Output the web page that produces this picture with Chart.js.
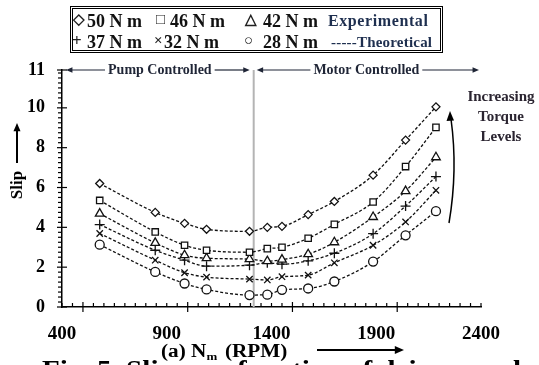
<!DOCTYPE html>
<html>
<head>
<meta charset="utf-8">
<script src="https://cdn.jsdelivr.net/npm/chart.js@4.4.1/dist/chart.umd.min.js"></script>
<style>
  body { margin: 0; background: #fff; }
  #wrap { position: relative; width: 539px; height: 365px; overflow: hidden; }
  #legenda {
    position: absolute; left: 70px; top: 6px; width: 367px; height: 41px;
    border: 3px double #000; font-family: "Liberation Serif", serif; font-weight: bold;
  }
  #legenda span { position: absolute; white-space: nowrap; line-height: 1; }
  .num { font-size: 18px; color: #111; }
  .sym { font-size: 15px; color: #222; }
  .tipo { font-size: 16px; color: #1e2f4f; letter-spacing: 0.6px; }
  .teo { font-size: 15px; color: #1e2f4f; letter-spacing: 0.2px; }
</style>
</head>
<body>
<div id="wrap">
  <canvas id="myChart" width="539" height="365"></canvas>
  <div id="legenda">
    <span class="sym" style="left:0px;top:3px">&#9671;</span>
    <span class="num" style="left:14px;top:3px">50 N m</span>
    <span class="sym" style="left:83px;top:3px">&#9633;</span>
    <span class="num" style="left:97px;top:3px">46 N m</span>
    <span class="sym" style="left:172px;top:3px">&#9651;</span>
    <span class="num" style="left:190px;top:3px">42 N m</span>
    <span class="tipo" style="left:255px;top:4px">Experimental</span>
    <span class="sym" style="left:-1px;top:23px;font-size:17px">+</span>
    <span class="num" style="left:14px;top:24px">37 N m</span>
    <span class="sym" style="left:81px;top:24px">&#215;</span>
    <span class="num" style="left:91px;top:24px">32 N m</span>
    <span class="sym" style="left:171px;top:24px">&#9675;</span>
    <span class="num" style="left:190px;top:24px">28 N m</span>
    <span class="teo" style="left:258px;top:26px">-----Theoretical</span>
  </div>
</div>
<script>
const ctx = document.getElementById("myChart");

// velocidades del motor (RPM) donde se midieron los puntos
const rpm = [580, 845, 985, 1090, 1295, 1380, 1450, 1575, 1700, 1885, 2040, 2185];

// slip para cada nivel de torque
const slip50 = [6.2, 4.75, 4.2, 3.9, 3.8, 4.0, 4.05, 4.64, 5.3, 6.62, 8.38, 10.05];
const slip46 = [5.35, 3.77, 3.1, 2.85, 2.75, 2.93, 3.0, 3.45, 4.15, 5.27, 7.05, 9.02];
const slip42 = [4.69, 3.22, 2.6, 2.45, 2.4, 2.3, 2.38, 2.65, 3.25, 4.52, 5.82, 7.52];
const slip37 = [4.14, 2.85, 2.35, 2.05, 2.1, 2.22, 2.15, 2.32, 2.7, 3.68, 5.07, 6.55];
const slip32 = [3.69, 2.35, 1.72, 1.5, 1.4, 1.36, 1.52, 1.6, 2.22, 3.1, 4.27, 5.86];
const slip28 = [3.13, 1.76, 1.18, 0.88, 0.6, 0.62, 0.86, 0.93, 1.28, 2.28, 3.6, 4.81];

const torqueLabels = ["50 N m", "46 N m", "42 N m", "37 N m", "32 N m", "28 N m"];
const xTicks = [400, 900, 1400, 1900, 2400];
const yTicks = [0, 2, 4, 6, 8, 10];
const yTopLabel = "11";
const yMax = 11.9;
const limiteRpm = 1315; // pump controlled / motor controlled

const allSlip = [slip50, slip46, slip42, slip37, slip32, slip28];
const estilos = ["rectRot", "rect", "triangle", "cross", "crossRot", "circle"];
const radios = [4, 4.5, 5, 5, 4.5, 4.5];

const fuente = "Liberation Serif";

function flecha(c, x1, y1, x2, y2, head) {
  const ang = Math.atan2(y2 - y1, x2 - x1);
  c.beginPath();
  c.moveTo(x1, y1);
  c.lineTo(x2 - Math.cos(ang) * head * 0.8, y2 - Math.sin(ang) * head * 0.8);
  c.stroke();
  c.beginPath();
  c.moveTo(x2, y2);
  c.lineTo(x2 - head * Math.cos(ang - 0.4), y2 - head * Math.sin(ang - 0.4));
  c.lineTo(x2 - head * Math.cos(ang + 0.4), y2 - head * Math.sin(ang + 0.4));
  c.closePath();
  c.fill();
}

// linea divisoria gris
const divisor = {
  id: "divisor",
  beforeDatasetsDraw(chart) {
    const c = chart.ctx;
    const a = chart.chartArea;
    const px = chart.scales.x.getPixelForValue(limiteRpm);
    c.save();
    c.strokeStyle = "#b4b4b4";
    c.lineWidth = 2;
    c.beginPath();
    c.moveTo(px, a.top);
    c.lineTo(px, a.bottom);
    c.stroke();
    c.restore();
  },
};

// ticks, textos y flechas
const extras = {
  id: "extras",
  afterDraw(chart) {
    const c = chart.ctx;
    const a = chart.chartArea;
    const sx = chart.scales.x;
    const sy = chart.scales.y;
    c.save();
    c.strokeStyle = "#000";
    c.fillStyle = "#000";
    c.lineWidth = 1.2;

    // ticks eje x
    for (let v = 400; v <= 2400; v += 50) {
      const px = sx.getPixelForValue(v);
      c.beginPath();
      if (v % 500 === 0) {
        c.moveTo(px, a.bottom - 5);
        c.lineTo(px, a.bottom + 5);
      } else {
        c.moveTo(px, a.bottom - 4);
        c.lineTo(px, a.bottom);
      }
      c.stroke();
    }
    // ticks eje y
    for (let v = 0; v <= yMax; v += 0.25) {
      const py = sy.getPixelForValue(v);
      c.beginPath();
      if (v % 2 === 0 && v <= 10) {
        c.moveTo(a.left - 5, py);
        c.lineTo(a.left + 5, py);
      } else {
        c.moveTo(a.left - 4, py);
        c.lineTo(a.left, py);
      }
      c.stroke();
    }
    c.beginPath();
    c.moveTo(a.left - 5, a.top);
    c.lineTo(a.left + 5, a.top);
    c.stroke();

    // Pump / Motor controlled
    const pd = sx.getPixelForValue(limiteRpm);
    c.font = "bold 14px " + fuente;
    c.textBaseline = "middle";
    c.textAlign = "center";
    c.fillStyle = "#1f2536";
    c.strokeStyle = "#1f2536";
    const ty = a.top;
    const pumpTxt = "Pump Controlled";
    const motorTxt = "Motor Controlled";
    const pumpX = (a.left + pd) / 2 + 2;
    const motorX = (pd + a.right) / 2 - 1;
    const wp = c.measureText(pumpTxt).width;
    const wm = c.measureText(motorTxt).width;
    c.fillText(pumpTxt, pumpX, ty);
    c.fillText(motorTxt, motorX, ty);
    flecha(c, pumpX - wp / 2 - 3, ty, a.left + 4, ty, 7);
    flecha(c, pumpX + wp / 2 + 3, ty, pd - 4, ty, 7);
    flecha(c, motorX - wm / 2 - 3, ty, pd + 3, ty, 7);
    flecha(c, motorX + wm / 2 + 3, ty, a.right - 2, ty, 7);

    // Increasing Torque Levels
    c.fillStyle = "#2a2430";
    c.font = "bold 15px " + fuente;
    c.fillText("Increasing", 501, 97);
    c.fillText("Torque", 501, 117);
    c.fillText("Levels", 501, 137);

    // flecha curva
    c.strokeStyle = "#000";
    c.fillStyle = "#000";
    c.lineWidth = 1.5;
    c.beginPath();
    c.moveTo(449, 223);
    c.quadraticCurveTo(458, 170, 451, 119);
    c.stroke();
    c.beginPath();
    c.moveTo(450, 111);
    c.lineTo(446.5, 121);
    c.lineTo(454, 120.5);
    c.closePath();
    c.fill();

    // titulo eje y
    c.save();
    c.translate(18, 185);
    c.rotate(-Math.PI / 2);
    c.font = "bold 17px " + fuente;
    c.textAlign = "center";
    c.fillText("Slip", 0, 0);
    c.lineWidth = 2;
    flecha(c, 22, -1, 62, -1, 9);
    c.restore();

    // titulo eje x (texto algo ensanchado como en la figura)
    c.textAlign = "left";
    c.textBaseline = "alphabetic";
    c.save();
    c.translate(161, 357);
    c.scale(1.18, 1);
    c.font = "bold 18px " + fuente;
    let x0 = 0;
    c.fillText("(a) N", x0, 0);
    x0 += c.measureText("(a) N").width;
    c.font = "bold 11px " + fuente;
    c.fillText("m", x0, 3);
    x0 += c.measureText("m").width + 2;
    c.font = "bold 18px " + fuente;
    c.fillText(" (RPM)", x0, 0);
    c.restore();
    c.lineWidth = 2;
    flecha(c, 317, 350, 404, 350, 10);

    // pie de figura (cortado)
    c.save();
    c.translate(42, 378);
    c.scale(1.12, 1);
    c.font = "bold 26px " + fuente;
    c.fillText("Fig. 5. Slip as a function of drive speed", 0, 0);
    c.restore();
    c.restore();
  },
};

const datasets = allSlip.map((serie, i) => ({
  label: torqueLabels[i],
  data: rpm.map((r, j) => ({ x: r, y: serie[j] })),
  borderColor: "#111",
  borderWidth: 1.3,
  borderDash: [3, 2],
  cubicInterpolationMode: "monotone",
  pointStyle: estilos[i],
  pointRadius: radios[i],
  pointBorderColor: "#111",
  pointBorderWidth: 1.3,
  pointBackgroundColor: "#fff",
  fill: false,
}));

const chart = new Chart(ctx, {
  type: "line",
  data: { datasets: datasets },
  options: {
    responsive: false,
    animation: false,
    layout: { padding: { top: 70, right: 58, left: 0, bottom: 0 } },
    plugins: { legend: { display: false }, tooltip: { enabled: false } },
    scales: {
      x: {
        type: "linear",
        min: 400,
        max: 2400,
        afterBuildTicks: (s) => { s.ticks = xTicks.map((v) => ({ value: v })); },
        afterFit: (s) => { s.height = 58; },
        grid: { display: false, drawTicks: false },
        border: { display: true, color: "#000", width: 1.5 },
        ticks: {
          color: "#000",
          padding: 16,
          maxRotation: 0,
          font: { family: fuente, size: 19, weight: "bold" },
          callback: (v) => String(v),
        },
      },
      y: {
        min: 0,
        max: yMax,
        afterBuildTicks: (s) => {
          s.ticks = yTicks.map((v) => ({ value: v })).concat([{ value: yMax }]);
        },
        afterFit: (s) => { s.width = 62; },
        grid: { display: false, drawTicks: false },
        border: { display: true, color: "#000", width: 1.5 },
        ticks: {
          color: "#000",
          padding: 17,
          font: { family: fuente, size: 18, weight: "bold" },
          callback: (v) => (v === yMax ? yTopLabel : String(v)),
        },
      },
    },
  },
  plugins: [divisor, extras],
});
</script>
</body>
</html>
